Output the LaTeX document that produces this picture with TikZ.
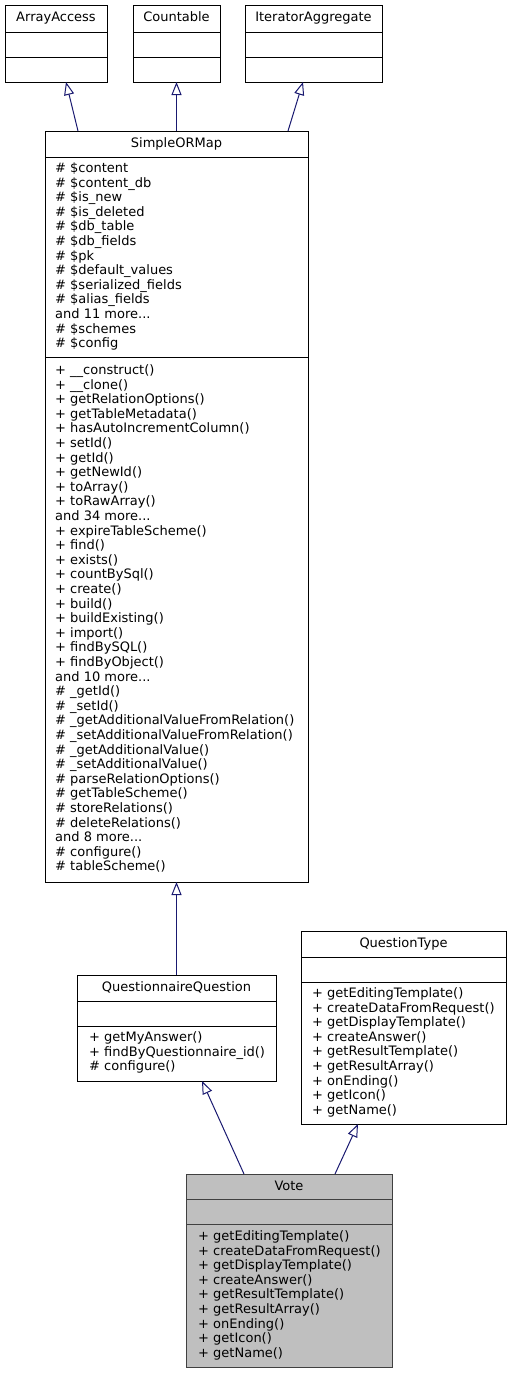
\documentclass[tikz,border=0pt]{standalone}
\usepackage{fontspec}
\setmainfont{DejaVu Sans}
\usetikzlibrary{arrows.meta,calc}
\definecolor{edgeblue}{HTML}{191970}
\definecolor{curfill}{HTML}{BFBFBF}
\definecolor{curdraw}{HTML}{404040}
\newcommand\tdots{...}
\tikzset{
  cls/.style={draw=black, line width=1pt, fill=white, inner sep=0pt, outer sep=0pt, anchor=north west},
  curcls/.style={cls, fill=curfill, draw=curdraw},
  divline/.style={draw=black, line width=1pt},
  curdiv/.style={draw=curdraw, line width=1pt},
  ttl/.style={inner sep=0pt, anchor=base, font=\fontsize{13}{14}\selectfont},
  mem/.style={inner sep=0pt, anchor=base west, font=\fontsize{13}{14}\selectfont},
  inh/.style={draw=edgeblue, line width=1pt, -{Triangle[open, length=13pt, width=10pt, line width=1pt]}},
}
\newcommand\memberlist[5]{% name, x, y0, dy, list
  \foreach \t [count=\i from 0] in {#5} {\node[mem] (#1-\i) at (#2, #3+\i*#4+4.5) {\t};}}
\newcommand\boxdividers[4]{% node, y1, y2, style
  \draw[#4] (#1.west |- 0,#2) -- (#1.east |- 0,#2);
  \draw[#4] (#1.west |- 0,#3) -- (#1.east |- 0,#3);}
\begin{document}
\begin{tikzpicture}[x=1pt, y=-1pt]
\useasboundingbox (0,0) rectangle (511,1373);

% top interfaces
\node[cls, minimum width=102pt, minimum height=77pt] (arrayaccess) at (5,5) {};
\boxdividers{arrayaccess}{32}{57}{divline}
\node[ttl] (arrayaccess-t) at ($(arrayaccess.north)+(0,16.5)$) {ArrayAccess};

\node[cls, minimum width=87pt, minimum height=77pt] (countable) at (133,5) {};
\boxdividers{countable}{32}{57}{divline}
\node[ttl] (countable-t) at ($(countable.north)+(0,16.5)$) {Countable};

\node[cls, minimum width=137pt, minimum height=77pt] (iterator) at (245,5) {};
\boxdividers{iterator}{32}{57}{divline}
\node[ttl] (iterator-t) at ($(iterator.north)+(0,16.5)$) {IteratorAggregate};

% SimpleORMap
\node[cls, minimum width=263pt, minimum height=751pt] (sorm) at (45,131) {};
\boxdividers{sorm}{157}{357}{divline}
\node[ttl] (sorm-t) at ($(sorm.north)+(0,16.5)$) {SimpleORMap};
\memberlist{sa}{55}{168}{14.6}{\# \$content,\# \$content\_db,\# \$is\_new,\# \$is\_deleted,\# \$db\_table,\# \$db\_fields,\# \$pk,\# \$default\_values,\# \$serialized\_fields,\# \$alias\_fields,and 11 more\tdots,\# \$schemes,\# \$config}
\memberlist{sm}{55}{370}{14.6}{+ \_\_construct(),+ \_\_clone(),+ getRelationOptions(),+ getTableMetadata(),+ hasAutoIncrementColumn(),+ setId(),+ getId(),+ getNewId(),+ toArray(),+ toRawArray(),and 34 more\tdots,+ expireTableScheme(),+ find(),+ exists(),+ countBySql(),+ create(),+ build(),+ buildExisting(),+ import(),+ findBySQL(),+ findByObject(),and 10 more\tdots,\# \_getId(),\# \_setId(),\# \_getAdditionalValueFromRelation(),\# \_setAdditionalValueFromRelation(),\# \_getAdditionalValue(),\# \_setAdditionalValue(),\# parseRelationOptions(),\# getTableScheme(),\# storeRelations(),\# deleteRelations(),and 8 more\tdots,\# configure(),\# tableScheme()}

% QuestionnaireQuestion
\node[cls, minimum width=199pt, minimum height=106pt] (qq) at (77,975) {};
\boxdividers{qq}{1001}{1026}{divline}
\node[ttl] (qq-t) at ($(qq.north)+(0,16.5)$) {QuestionnaireQuestion};
\memberlist{qqm}{89}{1037}{14.6}{+ getMyAnswer(),+ findByQuestionnaire\_id(),\# configure()}

% QuestionType
\node[cls, minimum width=205pt, minimum height=193pt] (qt) at (301,931) {};
\boxdividers{qt}{957}{982}{divline}
\node[ttl] (qt-t) at ($(qt.north)+(0,16.5)$) {QuestionType};
\memberlist{qtm}{312}{993}{14.6}{+ getEditingTemplate(),+ createDataFromRequest(),+ getDisplayTemplate(),+ createAnswer(),+ getResultTemplate(),+ getResultArray(),+ onEnding(),+ getIcon(),+ getName()}

% Vote
\node[curcls, minimum width=206pt, minimum height=193pt] (vote) at (186,1174) {};
\boxdividers{vote}{1199}{1224}{curdiv}
\node[ttl] (vote-t) at ($(vote.north)+(0,16.5)$) {Vote};
\memberlist{vm}{198}{1236}{14.6}{+ getEditingTemplate(),+ createDataFromRequest(),+ getDisplayTemplate(),+ createAnswer(),+ getResultTemplate(),+ getResultArray(),+ onEnding(),+ getIcon(),+ getName()}

% inheritance edges
\draw[inh] ($(sorm.north west)+(33,0)$) -- ($(arrayaccess.south west)+(61,0)$);
\draw[inh] (countable.south |- sorm.north) -- (countable.south);
\draw[inh] ($(sorm.north west)+(243,0)$) -- ($(iterator.south west)+(58,0)$);
\draw[inh] (qq.north) -- (sorm.south);
\draw[inh] ($(vote.north west)+(58,0)$) -- ($(qq.south west)+(125,0)$);
\draw[inh] ($(vote.north west)+(149,0)$) -- ($(qt.south west)+(57,0)$);
\end{tikzpicture}
\end{document}
